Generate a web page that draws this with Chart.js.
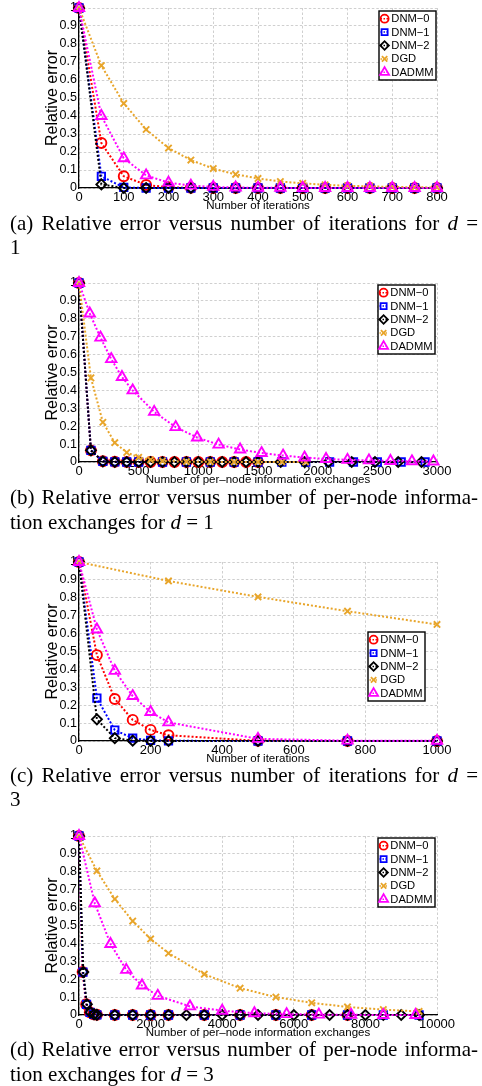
<!DOCTYPE html>
<html><head><meta charset="utf-8">
<script src="https://cdn.jsdelivr.net/npm/chart.js@4/dist/chart.umd.min.js"></script>
<style>
html,body{margin:0;padding:0;background:#fff}
body{width:482px;height:1086px;position:relative;overflow:hidden}
canvas{position:absolute;left:0}
.cap{position:absolute;left:10px;width:468px;font-family:"Liberation Serif","Times New Roman",serif;font-size:21px;line-height:24.5px;color:#000}
.j{text-align:justify;text-align-last:justify}
</style></head><body>
<canvas id="ca"></canvas>
<canvas id="cb"></canvas>
<canvas id="cc"></canvas>
<canvas id="cd"></canvas>
<div class="cap j" style="top:210.6px">(a) Relative error versus number of iterations for <i>d</i> =</div>
<div class="cap" style="top:235.1px">1</div>
<div class="cap j" style="top:485.4px">(b) Relative error versus number of per-node informa-</div>
<div class="cap" style="top:509.9px">tion exchanges for <i>d</i> = 1</div>
<div class="cap j" style="top:762.9px">(c) Relative error versus number of iterations for <i>d</i> =</div>
<div class="cap" style="top:787.3px">3</div>
<div class="cap j" style="top:1037.3px">(d) Relative error versus number of per-node informa-</div>
<div class="cap" style="top:1062.1px">tion exchanges for <i>d</i> = 3</div>
<script>
// ---------- DATA ----------
const seriesNames = ["DNM\u22120", "DNM\u22121", "DNM\u22122", "DGD", "DADMM"];
const yTicks = [0, 0.1, 0.2, 0.3, 0.4, 0.5, 0.6, 0.7, 0.8, 0.9, 1];

// (a) relative error vs iterations, d = 1
const a_x = [0, 50, 100, 150, 200, 250, 300, 350, 400, 450, 500, 550, 600, 650, 700, 750, 800];
const a_dnm0 = [1, 0.25, 0.065, 0.017, 0.004, 0.001, 0, 0, 0, 0, 0, 0, 0, 0, 0, 0, 0];
const a_dnm1 = [1, 0.065, 0.003, 0, 0, 0, 0, 0, 0, 0, 0, 0, 0, 0, 0, 0, 0];
const a_dnm2 = [1, 0.02, 0, 0, 0, 0, 0, 0, 0, 0, 0, 0, 0, 0, 0, 0, 0];
const a_dgd = [1, 0.68, 0.47, 0.325, 0.222, 0.155, 0.108, 0.076, 0.053, 0.036, 0.026, 0.018, 0.012, 0.009, 0.006, 0.004, 0.003];
const a_dadmm = [1, 0.40, 0.165, 0.07, 0.03, 0.013, 0.006, 0.003, 0.001, 0.001, 0, 0, 0, 0, 0, 0, 0];

// (b) relative error vs per-node information exchanges, d = 1
const b_dnm0_x = [0, 100, 200, 300, 400, 500, 600, 700, 800, 900, 1000, 1100, 1200, 1300, 1400, 1500];
const b_dnm0 = [1, 0.065, 0.004, 0.001, 0, 0, 0, 0, 0, 0, 0, 0, 0, 0, 0, 0];
const b_dnm1_x = [0, 100, 200, 300, 400, 500, 700, 900, 1100, 1300, 1500, 1700, 1900, 2100, 2300, 2500, 2700, 2900];
const b_dnm1 = [1, 0.065, 0.004, 0.001, 0, 0, 0, 0, 0, 0, 0, 0, 0, 0, 0, 0, 0, 0];
const b_dnm2_x = [0, 100, 200, 300, 400, 500, 600, 700, 800, 900, 1000, 1100, 1200, 1300, 1400, 1500, 1690, 1890, 2090, 2285, 2480, 2675, 2870];
const b_dnm2 = [1, 0.065, 0.003, 0, 0, 0, 0, 0, 0, 0, 0, 0, 0, 0, 0, 0, 0, 0, 0, 0, 0, 0, 0];
const b_dgd_x = [0, 100, 200, 300, 400, 500, 600, 700, 900, 1100, 1300, 1500, 1700, 1900];
const b_dgd = [1, 0.47, 0.222, 0.108, 0.053, 0.026, 0.012, 0.006, 0.002, 0.001, 0, 0, 0, 0];
const b_dadmm_x = [0, 90, 180, 270, 360, 450, 630, 810, 990, 1170, 1350, 1530, 1710, 1890, 2070, 2250, 2430, 2610, 2790, 2970];
const b_dadmm = [1, 0.83, 0.695, 0.575, 0.475, 0.40, 0.28, 0.195, 0.137, 0.097, 0.07, 0.05, 0.036, 0.025, 0.017, 0.012, 0.009, 0.006, 0.004, 0.003];

// (c) relative error vs iterations, d = 3
const c_x = [0, 50, 100, 150, 200, 250, 500, 750, 1000];
const c_dnm0 = [1, 0.48, 0.235, 0.118, 0.062, 0.032, 0.001, 0, 0];
const c_dnm1 = [1, 0.24, 0.061, 0.016, 0.004, 0.001, 0, 0, 0];
const c_dnm2 = [1, 0.121, 0.016, 0.002, 0, 0, 0, 0, 0];
const c_dgd_x = [0, 250, 500, 750, 1000];
const c_dgd = [1, 0.894, 0.805, 0.725, 0.651];
const c_dadmm = [1, 0.623, 0.392, 0.251, 0.162, 0.104, 0.012, 0.002, 0.001];

// (d) relative error vs per-node information exchanges, d = 3
const d_dnm0_x = [0, 100, 200, 300, 400, 500, 1000, 1500, 2000, 2500, 3500, 4500, 5500, 6500, 7500];
const d_dnm0 = [1, 0.24, 0.06, 0.015, 0.004, 0.001, 0, 0, 0, 0, 0, 0, 0, 0, 0];
const d_dnm1_x = [0, 110, 210, 310, 410, 500, 1000, 1500, 2000, 2500, 3500, 4500, 5500, 6500, 7500, 8500, 9500];
const d_dnm1 = [1, 0.24, 0.06, 0.015, 0.004, 0.001, 0, 0, 0, 0, 0, 0, 0, 0, 0, 0, 0];
const d_dnm2_x = [0, 120, 220, 320, 420, 500, 1000, 1500, 2000, 2500, 3000, 3500, 4000, 4500, 5000, 5500, 6000, 6500, 7000, 7500, 8000, 8500, 9000, 9500];
const d_dnm2 = [1, 0.24, 0.06, 0.015, 0.004, 0.001, 0, 0, 0, 0, 0, 0, 0, 0, 0, 0, 0, 0, 0, 0, 0, 0, 0, 0];
const d_dgd_x = [0, 500, 1000, 1500, 2000, 2500, 3500, 4500, 5500, 6500, 7500, 8500, 9500];
const d_dgd = [1, 0.805, 0.648, 0.525, 0.425, 0.345, 0.228, 0.15, 0.10, 0.068, 0.045, 0.03, 0.02];
const d_dadmm_x = [0, 440, 880, 1320, 1760, 2200, 3100, 4000, 4900, 5800, 6700, 7600, 8500, 9400];
const d_dadmm = [1, 0.624, 0.397, 0.252, 0.165, 0.107, 0.048, 0.024, 0.01, 0.005, 0.002, 0.001, 0, 0];

// ---------- STYLE ----------
const styles = [
  {color: '#FF0000', pointStyle: 'circle', r: 5, lr: 4},
  {color: '#0000FF', pointStyle: 'rect', r: 5.2, lr: 4.3},
  {color: '#000000', pointStyle: 'rectRot', r: 5, lr: 4.3},
  {color: '#E8A52A', pointStyle: 'crossRot', r: 4.5, lr: 3.8},
  {color: '#FF00FF', pointStyle: 'triangle', r: 6, lr: 5.2}
];

Chart.defaults.font.family = '"Liberation Sans", Arial, Helvetica, sans-serif';
Chart.defaults.color = '#000';

function pts(xs, ys) { return xs.map((x, i) => ({x: x, y: ys[i]})); }

function drawMarker(ctx, style, r, x, y) {
  ctx.beginPath();
  if (style === 'circle') { ctx.arc(x, y, r, 0, Math.PI * 2); }
  else if (style === 'rect') { const s = r * Math.SQRT1_2; ctx.rect(x - s, y - s, 2 * s, 2 * s); }
  else if (style === 'rectRot') { ctx.moveTo(x - r, y); ctx.lineTo(x, y - r); ctx.lineTo(x + r, y); ctx.lineTo(x, y + r); ctx.closePath(); }
  else if (style === 'crossRot') { const s = r * Math.SQRT1_2; ctx.moveTo(x - s, y - s); ctx.lineTo(x + s, y + s); ctx.moveTo(x + s, y - s); ctx.lineTo(x - s, y + s); }
  else if (style === 'triangle') { ctx.moveTo(x, y - r); ctx.lineTo(x + r * 0.866, y + r * 0.5); ctx.lineTo(x - r * 0.866, y + r * 0.5); ctx.closePath(); }
  ctx.stroke();
}

const insideLegend = {
  id: 'insideLegend',
  afterDatasetsDraw(chart, args, opts) {
    const ctx = chart.ctx, a = chart.chartArea;
    const w = 57, h = 69;
    const x0 = a.right - opts.right - w, y0 = a.top + opts.top;
    ctx.save();
    ctx.fillStyle = '#fff';
    ctx.fillRect(x0, y0, w, h);
    ctx.strokeStyle = '#000';
    ctx.lineWidth = 1.4;
    ctx.strokeRect(x0, y0, w, h);
    ctx.font = '11.2px "Liberation Sans", Arial, sans-serif';
    ctx.textBaseline = 'middle';
    ctx.textAlign = 'left';
    chart.data.datasets.forEach((ds, i) => {
      const st = styles[i];
      const cy = y0 + 7.7 + 13.4 * i, cx = x0 + 5.6;
      ctx.strokeStyle = st.color;
      ctx.lineWidth = 1.5;
      ctx.setLineDash([1.5, 1.5]);
      ctx.beginPath(); ctx.moveTo(x0 + 1.5, cy); ctx.lineTo(x0 + 10.5, cy); ctx.stroke();
      ctx.setLineDash([]);
      ctx.lineWidth = 1.8;
      drawMarker(ctx, st.pointStyle, st.lr, cx, cy);
      ctx.fillStyle = '#000';
      ctx.fillText(ds.label, x0 + 12.3, cy + 0.5);
    });
    ctx.restore();
  }
};

function makeChart(id, plotTop, plotBottom, xMax, xStep, xTitle, series, legendPos) {
  const cv = document.getElementById(id);
  const PADT = 12, XH = 25;
  const plotH = plotBottom - plotTop;
  const H = PADT + plotH + XH;
  cv.width = 482; cv.height = H;
  cv.style.width = '482px'; cv.style.height = H + 'px';
  cv.style.top = (plotTop - PADT) + 'px';
  const datasets = series.map((s, i) => ({
    label: seriesNames[i],
    data: pts(s[0], s[1]),
    borderColor: styles[i].color,
    backgroundColor: 'rgba(0,0,0,0)',
    borderWidth: 2,
    borderDash: [2, 2],
    pointStyle: styles[i].pointStyle,
    pointRadius: styles[i].r,
    pointBorderColor: styles[i].color,
    pointBackgroundColor: 'rgba(0,0,0,0)',
    pointBorderWidth: 1.9,
    fill: false,
    tension: 0,
    clip: false,
    order: 5 - i
  }));
  new Chart(cv, {
    type: 'line',
    data: {datasets: datasets},
    options: {
      responsive: false, animation: false, devicePixelRatio: 1,
      layout: {padding: {top: PADT, left: 0, right: 45, bottom: 0}},
      plugins: {legend: {display: false}, tooltip: {enabled: false}, insideLegend: legendPos},
      scales: {
        x: {
          type: 'linear', min: 0, max: xMax,
          afterFit(s) { s.height = XH; },
          ticks: {stepSize: xStep, padding: 1.2, font: {size: 13}, maxRotation: 0, autoSkip: false, callback: v => String(v)},
          grid: {color: '#cfcfcf', drawTicks: false, lineWidth: 1},
          border: {display: true, color: '#000', width: 1.3, dash: [2.5, 2]},
          title: {display: true, text: xTitle, font: {size: 11.5}, padding: 0}
        },
        y: {
          type: 'linear', min: 0, max: 1,
          afterFit(s) { s.width = 79; },
          afterBuildTicks(s) { s.ticks = yTicks.map(v => ({value: v})); },
          ticks: {padding: 2, font: {size: 12.5}, autoSkip: false, callback: v => (v === 0 ? '0' : v === 1 ? '1' : (Math.round(v * 10) / 10).toFixed(1))},
          grid: {color: '#cfcfcf', drawTicks: false, lineWidth: 1},
          border: {display: true, color: '#000', width: 1.3, dash: [2.5, 2]},
          title: {display: true, text: 'Relative error', font: {size: 16}, padding: {top: 43, bottom: 0}}
        }
      }
    },
    plugins: [insideLegend]
  });
}

makeChart('ca', 8, 188, 800, 100, 'Number of iterations',
  [[a_x, a_dnm0], [a_x, a_dnm1], [a_x, a_dnm2], [a_x, a_dgd], [a_x, a_dadmm]], {right: 1, top: 3});
makeChart('cb', 283, 462, 3000, 500, 'Number of per\u2013node information exchanges',
  [[b_dnm0_x, b_dnm0], [b_dnm1_x, b_dnm1], [b_dnm2_x, b_dnm2], [b_dgd_x, b_dgd], [b_dadmm_x, b_dadmm]], {right: 2, top: 2});
makeChart('cc', 562, 741, 1000, 200, 'Number of iterations',
  [[c_x, c_dnm0], [c_x, c_dnm1], [c_x, c_dnm2], [c_dgd_x, c_dgd], [c_x, c_dadmm]], {right: 12, top: 70});
makeChart('cd', 836, 1015, 10000, 2000, 'Number of per\u2013node information exchanges',
  [[d_dnm0_x, d_dnm0], [d_dnm1_x, d_dnm1], [d_dnm2_x, d_dnm2], [d_dgd_x, d_dgd], [d_dadmm_x, d_dadmm]], {right: 2, top: 2});
</script>
</body></html>
